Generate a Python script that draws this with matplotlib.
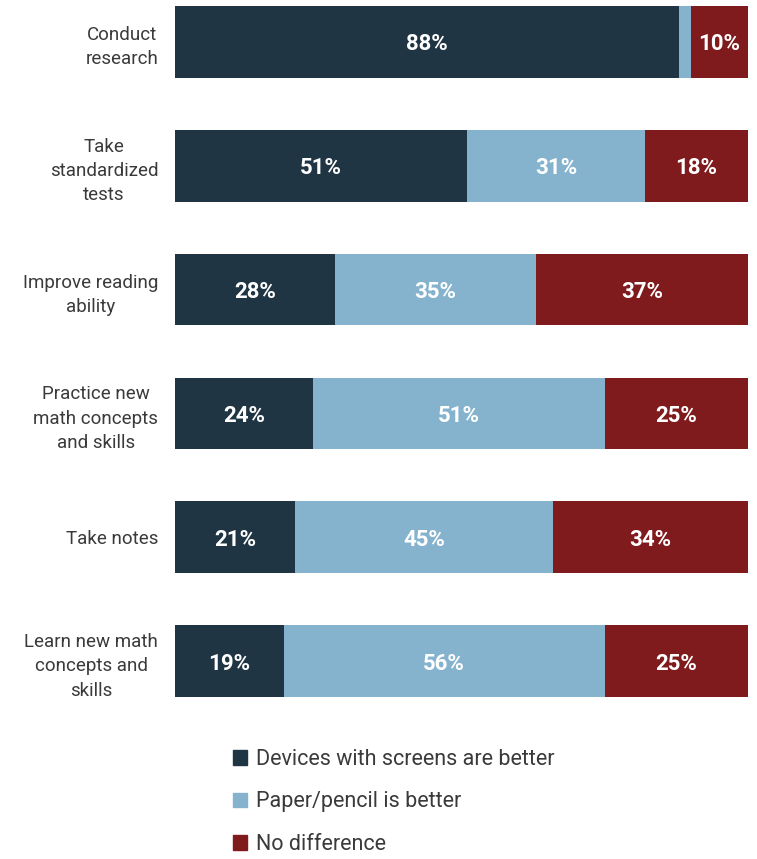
import numpy as np
import matplotlib.pyplot as plt
from matplotlib.patches import Patch

plt.rcParams['font.family'] = ['Roboto', 'DejaVu Sans']

categories = ['Conduct\nresearch', 'Take\nstandardized\ntests', 'Improve reading\nability',
              'Practice new\nmath concepts\nand skills', 'Take notes',
              'Learn new math\nconcepts and\nskills']
screens = [88, 51, 28, 24, 21, 19]
paper = [2, 31, 35, 51, 45, 56]
no_diff = [10, 18, 37, 25, 34, 25]
series_names = ['Devices with screens are better', 'Paper/pencil is better', 'No difference']
colors = ['#203543', '#85B3CE', '#7F1A1D']

fig = plt.figure(figsize=(7.57, 8.59), dpi=100)
W, H = 757, 859
ax = fig.add_axes([175 / W, 1 - 697 / H, (748 - 175) / W, (697 - 6) / H])

y = np.arange(len(categories))
bar_h = 0.58
left = np.zeros(len(categories))
for vals, c, name in zip([screens, paper, no_diff], colors, series_names):
    vals = np.array(vals, dtype=float)
    ax.barh(y, vals, left=left, height=bar_h, color=c, label=name)
    for yi, (l, v) in enumerate(zip(left, vals)):
        if v >= 5:
            ax.text(l + v / 2, yi + 0.02, f'{int(v)}%', ha='center', va='center',
                    color='white', fontsize=16, fontweight='bold')
    left += vals

ax.set_xlim(0, 100)
ax.set_ylim(5 + bar_h / 2, -bar_h / 2)
ax.set_yticks(y)
ax.set_yticklabels(categories, fontsize=13.5, color='#3a3a3a', linespacing=1.45)
for lbl in ax.get_yticklabels():
    lbl.set_multialignment('center')
ax.tick_params(axis='y', length=0, pad=12)
ax.set_xticks([])
for s in ax.spines.values():
    s.set_visible(False)

handles = [Patch(color=c) for c in colors]
fig.legend(handles, series_names, loc='center left',
           bbox_to_anchor=(214 / W, 1 - 802 / H), frameon=False,
           handlelength=0.65, handleheight=0.65,
           handletextpad=0.4, labelspacing=1.0, labelcolor='#3a3a3a',
           prop={'size': 15.5})

fig.savefig('out.png', dpi=100)
